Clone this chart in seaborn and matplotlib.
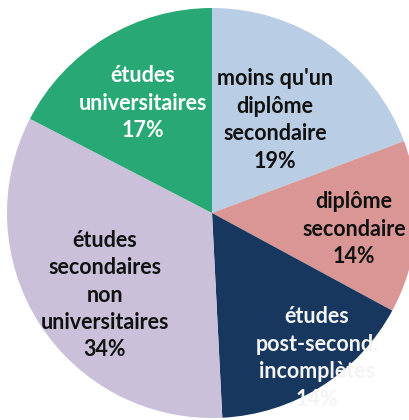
import matplotlib
matplotlib.use("Agg")
import matplotlib.pyplot as plt
import seaborn as sns

categories = ["moins qu'un diplôme secondaire", "diplôme secondaire",
              "études post-second. incomplètes",
              "études secondaires non universitaires", "études universitaires"]
values = [19.3, 13.6, 16.3, 33.4, 17.4]
label_texts = ["moins qu'un\ndiplôme\nsecondaire\n19%",
               "diplôme\nsecondaire\n14%",
               "études\npost-second.\nincomplètes\n14%",
               "études\nsecondaires\nnon\nuniversitaires\n34%",
               "études\nuniversitaires\n17%"]
colors = ["#b9cde5", "#d99694", "#17375e", "#cac0da", "#28a874"]
text_colors = ["#111111", "#111111", "#f4f4f4", "#111111", "#ffffff"]

sns.set_theme(style="white")
plt.rcParams['font.family'] = ['Lato', 'DejaVu Sans']

W, H, dpi = 409, 420, 100
fig = plt.figure(figsize=(W / dpi, H / dpi), dpi=dpi)
ax = fig.add_axes([0, 0, 1, 1])

cx, cy, R = 212, 213, 205
ax.pie(values, colors=sns.color_palette(colors), startangle=90, counterclock=False,
       radius=1.0, wedgeprops=dict(linewidth=0, antialiased=True))

ax.set_xlim(-cx / R, (W - cx) / R)
ax.set_ylim(-(H - cy) / R, cy / R)
ax.set_aspect('auto')
ax.axis('off')

label_px = [(275, 120), (354, 229), (317, 358), (105, 295), (143, 103)]
for (px, py), txt, tc in zip(label_px, label_texts, text_colors):
    ax.text((px - cx) / R, (cy - py) / R, txt, ha='center', va='center',
            fontsize=15.5, fontweight='bold', color=tc, linespacing=1.38)

fig.savefig("out.png", dpi=dpi)
